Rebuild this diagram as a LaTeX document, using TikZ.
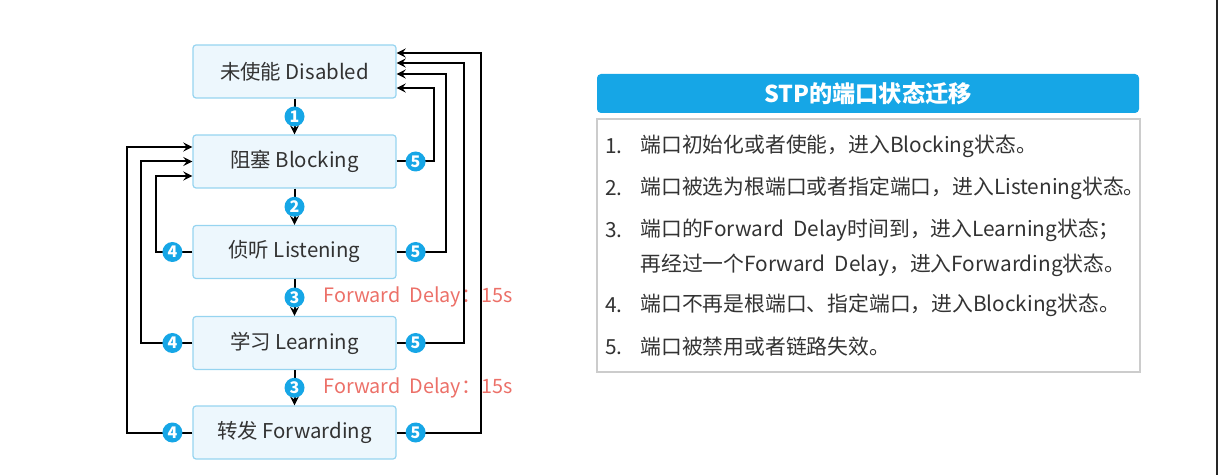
\documentclass[tikz,border=0pt]{standalone}
\usepackage{fontspec}
\setmainfont{Noto Sans CJK SC}
\usetikzlibrary{arrows}
\definecolor{stpblue}{RGB}{22,166,230}
\definecolor{boxfill}{RGB}{237,247,253}
\definecolor{boxline}{RGB}{150,212,240}
\definecolor{delayred}{RGB}{236,112,104}
\definecolor{txtgray}{RGB}{51,51,51}
\tikzstyle{state} = [rectangle, rounded corners=1.5pt, minimum width=101.5pt, minimum height=26.5pt, draw=boxline, line width=0.6pt, fill=boxfill, text=txtgray, font=\fontsize{10.2}{12}\selectfont]
\tikzstyle{badge} = [circle, fill=stpblue, text=white, inner sep=0pt, minimum size=10pt, font=\fontsize{8}{8}\selectfont\bfseries]
\tikzstyle{arrow} = [line width=1pt, ->, >=stealth]
\tikzstyle{delay} = [anchor=west, text=delayred, inner sep=0pt, font=\fontsize{9.9}{11}\selectfont]
\tikzstyle{item} = [anchor=west, text=txtgray, inner sep=0pt, font=\fontsize{10.4}{12}\selectfont]

\begin{document}
\begin{tikzpicture}[x=0.5pt, y=-0.5pt]
\useasboundingbox (0,0) rectangle (1219,475);

%states
\node[state] (dis) at (294.5,71.5) {未使能 Disabled};
\node[state] (blk) at (294.5,161.5) {阻塞 Blocking};
\node[state] (lis) at (294.5,252) {侦听 Listening};
\node[state] (lrn) at (294.5,343) {学习 Learning};
\node[state] (fwd) at (294.5,432.5) {转发 Forwarding};

%1, 2, 3
\draw[arrow] (dis) -- node[badge] (n1) {1} (blk);
\draw[arrow] (blk) -- node[badge] (n2) {2} (lis);
\draw[arrow] (lis) -- node[badge] (n3a) {3} (lrn);
\draw[arrow] (lrn) -- node[badge] (n3b) {3} (fwd);
\node[delay] (d1) at (323,297) {Forward\ \ Delay：15s};
\node[delay] (d2) at (323,388) {Forward\ \ Delay：15s};

%4 back to Blocking
\draw[arrow] (lis.west) -- ++(-20,0) node[badge] (l4a) {4} -- ++(-16,0) |- ([shift={(0,14.5)}]blk.west);
\draw[arrow] (lrn.west) -- ++(-20,0) node[badge] (l4b) {4} -- ++(-31,0) |- (blk.west);
\draw[arrow] (fwd.west) -- ++(-20,0) node[badge] (l4c) {4} -- ++(-45.5,0) |- ([shift={(0,-14.5)}]blk.west);

%5 back to Disabled
\draw[arrow] (blk.east) -- ++(19,0) node[badge] (r5a) {5} -- ++(18,0) |- ([shift={(0,16.5)}]dis.east);
\draw[arrow] (lis.east) -- ++(19,0) node[badge] (r5b) {5} -- ++(30,0) |- ([shift={(0,2.5)}]dis.east);
\draw[arrow] (lrn.east) -- ++(19,0) node[badge] (r5c) {5} -- ++(48,0) |- ([shift={(0,-8.5)}]dis.east);
\draw[arrow] (fwd.east) -- ++(19,0) node[badge] (r5d) {5} -- ++(65,0) |- ([shift={(0,-18.5)}]dis.east);

%table
\node[rectangle, draw=gray!40, line width=0.6pt, fill=white, minimum width=271.5pt, minimum height=126.5pt] (list) at (868.5,245.5) {};
\node[rectangle, rounded corners=2pt, fill=stpblue, text=white, minimum width=271pt, minimum height=19.5pt, font=\fontsize{11.6}{13}\selectfont\bfseries] (title) at (868,93.5) {STP的端口状态迁移};

\node[item] (i1n) at (605,146) {1.};
\node[item] (i1) at (640,146) {端口初始化或者使能，进入Blocking状态。};
\node[item] (i2n) at (605,188) {2.};
\node[item] (i2) at (640,188) {端口被选为根端口或者指定端口，进入Listening状态。};
\node[item] (i3n) at (605,230) {3.};
\node[item] (i3) at (640,230) {端口的Forward\ \ Delay时间到，进入Learning状态；};
\node[item] (i3b) at (640,265) {再经过一个Forward\ \ Delay，进入Forwarding状态。};
\node[item] (i4n) at (605,305) {4.};
\node[item] (i4) at (640,305) {端口不再是根端口、指定端口，进入Blocking状态。};
\node[item] (i5n) at (605,347) {5.};
\node[item] (i5) at (640,347) {端口被禁用或者链路失效。};

%edge
\draw[line width=1pt, black!85] (1217,0) -- (1217,475);

\end{tikzpicture}
\end{document}
